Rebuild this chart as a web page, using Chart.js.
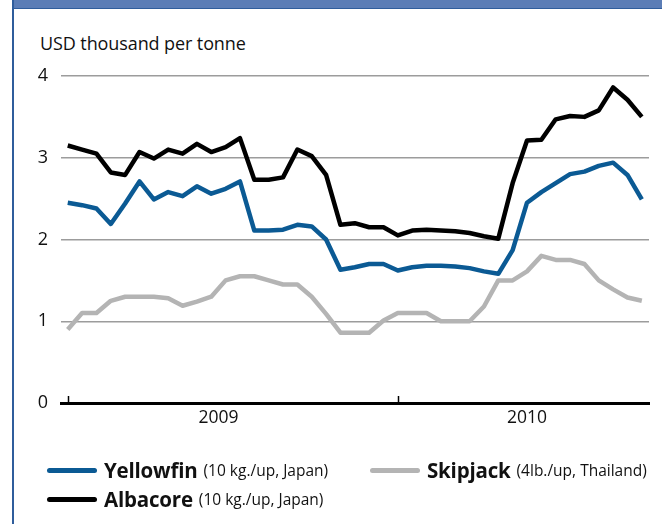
<!DOCTYPE html>
<html>
<head>
<meta charset="utf-8">
<script src="https://cdn.jsdelivr.net/npm/chart.js@4.4.0/dist/chart.umd.min.js"></script>
<style>
  html,body{margin:0;padding:0;background:#fff;}
  body{width:662px;height:524px;position:relative;overflow:hidden;font-family:"Open Sans",sans-serif;}
  #band{position:absolute;left:12px;top:0;width:650px;height:8px;background:#5b7db6;border-bottom:1px solid #2f5d9c;}
  #edge{position:absolute;left:12px;top:0;width:1.5px;height:524px;background:#2f5d9c;}
  #unit{position:absolute;left:40px;top:31px;font-size:18px;color:#111;letter-spacing:-0.1px;}
  #chartBox{position:absolute;left:0;top:0;width:662px;height:440px;}
  #legend{position:absolute;left:0;top:0;width:662px;height:524px;pointer-events:none;}
  .item{position:absolute;display:flex;align-items:center;white-space:nowrap;color:#111;}
  .sw{display:inline-block;width:50px;height:5px;border-radius:3px;margin-right:7px;}
  .nm{font-weight:700;font-size:20.5px;letter-spacing:-0.2px;}
  .nt{font-size:15.5px;margin-left:6px;}
</style>
</head>
<body>
<div id="band"></div>
<div id="edge"></div>
<div id="unit">USD thousand per tonne</div>
<div id="chartBox"><canvas id="c" width="662" height="440"></canvas></div>
<div id="legend"></div>
<script>
// ---------- data (roughly twice-monthly prices) ----------
const yellowfin = [2.45,2.42,2.38,2.19,2.44,2.71,2.49,2.58,2.53,2.65,2.56,2.62,2.71,2.11,2.11,2.12,2.18,2.16,2.00,1.63,
                   1.66,1.70,1.70,1.62,1.66,1.68,1.68,1.67,1.65,1.61,1.58,1.87,2.45,2.58,2.69,2.80,2.83,2.90,2.94,2.79,2.49];
const skipjack  = [0.90,1.10,1.10,1.25,1.30,1.30,1.30,1.28,1.19,1.24,1.30,1.50,1.55,1.55,1.50,1.45,1.45,1.30,1.09,0.86,
                   0.86,0.86,1.01,1.10,1.10,1.10,1.00,1.00,1.00,1.18,1.50,1.50,1.61,1.80,1.75,1.75,1.70,1.50,1.39,1.29,1.25];
const albacore  = [3.15,3.10,3.05,2.82,2.79,3.07,2.99,3.10,3.05,3.17,3.07,3.13,3.24,2.73,2.73,2.76,3.10,3.02,2.79,2.18,
                   2.20,2.15,2.15,2.05,2.11,2.12,2.11,2.10,2.08,2.04,2.01,2.69,3.21,3.22,3.47,3.51,3.50,3.58,3.86,3.71,3.50];

const yearLabels = ['2009','2010'];
const yearLabelPos = [10.5, 32];   // where the year text sits (point index)
const yearTicks = [0, 23];          // small tick marks on the axis
const yTicks = [0,1,2,3,4];

const names = ['Yellowfin','Skipjack','Albacore'];
const notes = ['(10 kg./up, Japan)','(4lb./up, Thailand)','(10 kg./up, Japan)'];
const colors = ['#0b5a94','#b4b4b4','#000000'];

const toXY = arr => arr.map((v,i)=>({x:i, y:v}));

// ---------- small upward ticks on the zero line ----------
const axisTicks = {
  id:'axisTicks',
  afterDraw(chart){
    const ctx = chart.ctx, xs = chart.scales.x, b = chart.chartArea.bottom;
    ctx.save();
    ctx.strokeStyle = '#000'; ctx.lineWidth = 1.5;
    yearTicks.forEach(v=>{
      const x = Math.round(xs.getPixelForValue(v)) + 0.5;
      ctx.beginPath(); ctx.moveTo(x, b); ctx.lineTo(x, b-7); ctx.stroke();
    });
    ctx.restore();
  }
};

const series = [skipjack, yellowfin, albacore];
const order  = [1, 0, 2];

const chart = new Chart(document.getElementById('c'), {
  type:'line',
  data:{
    datasets: order.map((k,j)=>({
      label: names[k],
      data: toXY(series[j]),
      borderColor: colors[k],
      borderWidth: 4.5,
      pointRadius: 0,
      tension: 0,
      fill: false,
      borderJoinStyle: 'round'
    }))
  },
  options:{
    responsive:false,
    animation:false,
    layout:{padding:{left:12, right:13, top:76, bottom:3}},
    plugins:{legend:{display:false}, tooltip:{enabled:false}},
    scales:{
      x:{
        type:'linear', min:-0.47, max:40.5,
        afterBuildTicks: s => { s.ticks = yearLabelPos.map(v=>({value:v})); },
        afterFit: s => { s.height = 34; },
        ticks:{
          callback:(v)=> yearLabels[yearLabelPos.indexOf(v)],
          color:'#111', font:{family:'Open Sans', size:17.5}, padding:5, maxRotation:0
        },
        grid:{display:false, drawTicks:false},
        border:{display:true, color:'#000', width:3}
      },
      y:{
        min:0, max:4,
        afterBuildTicks: s => { s.ticks = yTicks.map(v=>({value:v})); },
        afterFit: s => { s.width = 49; },
        ticks:{color:'#111', font:{family:'Open Sans', size:18}, padding:13},
        grid:{color:'#9c9c9c', lineWidth:1.5, drawTicks:false},
        border:{display:false}
      }
    }
  },
  plugins:[axisTicks]
});

// ---------- legend built from the same names / colours ----------
const legendPos = [[47,456],[370,456],[47,485]];
const lg = document.getElementById('legend');
names.forEach((n,i)=>{
  const d = document.createElement('div');
  d.className = 'item';
  d.style.left = legendPos[i][0]+'px';
  d.style.top = legendPos[i][1]+'px';
  d.innerHTML = '<span class="sw" style="background:'+colors[i]+'"></span><span class="nm">'+n+'</span><span class="nt">'+notes[i]+'</span>';
  lg.appendChild(d);
});
</script>
</body>
</html>
